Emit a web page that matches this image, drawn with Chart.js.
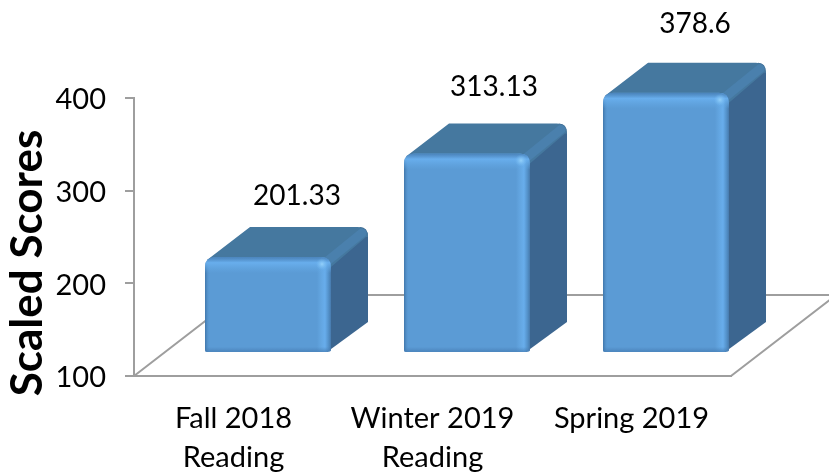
<!DOCTYPE html>
<html><head><meta charset="utf-8">
<style>html,body{margin:0;padding:0;background:#fff}canvas{display:block}</style>
<script src="https://cdn.jsdelivr.net/npm/chart.js@4/dist/chart.umd.min.js"></script>
</head><body><canvas id="c" width="829" height="473"></canvas>
<script>
const categories = [['Fall 2018','Reading'],['Winter 2019','Reading'],'Spring 2019'];
const scores = [201.33, 313.13, 378.6];
const scoreLabels = ['201.33','313.13','378.6'];
const axisTitle = 'Scaled Scores';
const FONT = 'Lato, Carlito, sans-serif';

const FRONT = {x:34.5, y:-25};
const DEPTH = {x:37, y:-30};
const FLOOR = {x:105, y:-81};
const LABEL_RISE = [86,92,94];
const LABEL_SHIFT = [29,27,29];
const LINE = '#9e9e9e';

function rr(ctx,l,t,r,b,rad){
  ctx.beginPath();
  ctx.moveTo(l+rad,t);ctx.lineTo(r-rad,t);ctx.quadraticCurveTo(r,t,r,t+rad);
  ctx.lineTo(r,b-2);ctx.quadraticCurveTo(r,b,r-6,b);
  ctx.lineTo(l+2,b);ctx.quadraticCurveTo(l,b,l,b-2);
  ctx.lineTo(l,t+rad);ctx.quadraticCurveTo(l,t,l+rad,t);ctx.closePath();
}
const bars3d = {
  id:'bars3d',
  beforeDatasetsDraw(chart){
    const ctx=chart.ctx,a=chart.chartArea;
    ctx.save();
    ctx.strokeStyle=LINE;ctx.lineWidth=2;
    ctx.beginPath();
    ctx.moveTo(a.left,a.bottom);ctx.lineTo(a.left+FLOOR.x,a.bottom+FLOOR.y);
    ctx.lineTo(chart.width,a.bottom+FLOOR.y);
    ctx.moveTo(a.right,a.bottom);ctx.lineTo(a.right+FLOOR.x,a.bottom+FLOOR.y);
    ctx.stroke();
    ctx.restore();
  },
  beforeDatasetDraw(chart,args){
    const ctx=chart.ctx;
    const els=chart.getDatasetMeta(args.index).data;
    ctx.save();
    ctx.translate(FRONT.x,FRONT.y);
    els.forEach(el=>{
      const l=el.x-el.width/2,r=el.x+el.width/2,t=el.y,b=el.base;
      const dx=DEPTH.x,dy=DEPTH.y,rad=10;
      // right side
      ctx.fillStyle='#3c6690';
      ctx.beginPath();
      ctx.moveTo(r-6,t+4);ctx.lineTo(r+dx-8,t+dy);ctx.quadraticCurveTo(r+dx,t+dy,r+dx,t+dy+rad);
      ctx.lineTo(r+dx,b+dy);ctx.lineTo(r-4,b);ctx.closePath();ctx.fill();
      // top
      ctx.fillStyle='#45789f';
      ctx.beginPath();
      ctx.moveTo(l+2,t+3);ctx.lineTo(l+dx+8,t+dy);ctx.lineTo(r+dx-rad,t+dy);
      ctx.quadraticCurveTo(r+dx,t+dy,r+dx,t+dy+rad);ctx.lineTo(r+dx-2,t+dy+10);ctx.lineTo(r,t+10);ctx.closePath();ctx.fill();
      // bevel between top and side
      ctx.strokeStyle='#4a80ad';ctx.lineWidth=9;ctx.lineCap='round';
      ctx.beginPath();ctx.moveTo(r-6,t+6);ctx.lineTo(r+dx-6,t+dy+6);ctx.stroke();
    });
    ctx.lineCap='butt';
  },
  afterDatasetDraw(chart,args){
    const ctx=chart.ctx;
    const els=chart.getDatasetMeta(args.index).data;
    els.forEach(el=>{
      const l=el.x-el.width/2,r=el.x+el.width/2,t=el.y,b=el.base;
      ctx.save();
      rr(ctx,l,t,r,b,10);ctx.clip();
      let g=ctx.createLinearGradient(l,0,r,0);
      const w=r-l;
      g.addColorStop(0,'rgba(50,100,150,.7)');g.addColorStop(5/w,'rgba(91,155,213,0)');
      g.addColorStop((w-14)/w,'rgba(110,180,240,0)');g.addColorStop((w-6)/w,'rgba(105,175,238,.9)');
      g.addColorStop((w-2)/w,'rgba(80,140,195,.9)');g.addColorStop(1,'rgba(70,120,170,1)');
      ctx.fillStyle=g;ctx.fillRect(l,t,w,b-t);
      g=ctx.createLinearGradient(0,t,0,t+16);
      g.addColorStop(0,'rgba(70,125,180,.8)');g.addColorStop(.35,'rgba(105,175,238,.95)');g.addColorStop(1,'rgba(100,170,230,0)');
      ctx.fillStyle=g;ctx.fillRect(l,t,w,16);
      g=ctx.createLinearGradient(0,b-5,0,b);
      g.addColorStop(0,'rgba(70,125,180,0)');g.addColorStop(1,'rgba(70,125,180,.75)');
      ctx.fillStyle=g;ctx.fillRect(l,b-5,w,5);
      g=ctx.createRadialGradient(r-9,t+7,0,r-9,t+7,6);
      g.addColorStop(0,'rgba(150,210,250,.95)');g.addColorStop(1,'rgba(120,190,245,0)');
      ctx.fillStyle=g;ctx.fillRect(r-16,t,16,16);
      ctx.restore();
    });
    ctx.restore();
  },
  afterDraw(chart){
    const ctx=chart.ctx;
    const els=chart.getDatasetMeta(0).data;
    const y=chart.scales.y;
    ctx.save();
    ctx.fillStyle='#000';ctx.font='28px '+FONT;ctx.textAlign='center';ctx.textBaseline='middle';
    els.forEach((el,i)=>{
      ctx.fillText(scoreLabels[i],el.x+FRONT.x+LABEL_SHIFT[i],y.getPixelForValue(scores[i])-LABEL_RISE[i]);
    });
    ctx.translate(28,263);ctx.rotate(-Math.PI/2);
    ctx.font='bold 44px '+FONT;
    ctx.fillText(axisTitle,0,0);
    ctx.restore();
  }
};
new Chart(document.getElementById('c'),{
  type:'bar',
  data:{labels:categories,datasets:[{data:scores,base:99,backgroundColor:'#5b9bd5',borderWidth:0,clip:false,
    borderRadius:{topLeft:10,topRight:10,bottomLeft:2,bottomRight:6},borderSkipped:false,
    categoryPercentage:0.633,barPercentage:1}]},
  plugins:[bars3d],
  options:{
    responsive:false,animation:false,
    layout:{padding:{top:98,right:98,left:0,bottom:0}},
    plugins:{legend:{display:false},tooltip:{enabled:false},title:{display:false}},
    scales:{
      x:{
        grid:{display:false},
        border:{color:LINE,width:2},
        ticks:{color:'#000',font:{family:FONT,size:29,lineHeight:1.32},padding:16,maxRotation:0,autoSkip:false},
        afterFit(s){s.height=97;}
      },
      y:{
        min:100,max:400,
        grid:{drawOnChartArea:false,color:LINE,tickLength:9,lineWidth:2},
        border:{color:LINE,width:2},
        ticks:{stepSize:100,color:'#000',font:{family:FONT,size:29},padding:19,labelOffset:2},
        afterFit(s){s.width=134;}
      }
    }
  }
});
</script></body></html>
